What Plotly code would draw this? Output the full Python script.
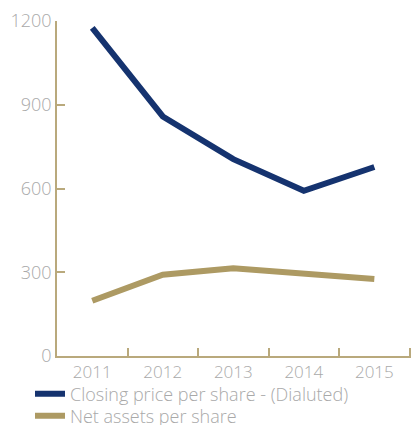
import plotly.graph_objects as go

years = ["2011", "2012", "2013", "2014", "2015"]
closing_price = [1175, 858, 705, 592, 677]
net_assets = [198, 291, 314, 297, 276]
y_ticks = [0, 300, 600, 900, 1200]

BLUE = "#15336f"
GOLD = "#ad9a63"
AXIS = "#b9a97c"
TEXT = "#a9a9a9"

fig = go.Figure()
fig.add_trace(go.Scatter(x=years, y=closing_price, mode="lines",
                         name="Closing price per share - (Dialuted)",
                         line=dict(color=BLUE, width=6), legend="legend"))
fig.add_trace(go.Scatter(x=years, y=net_assets, mode="lines",
                         name="Net assets per share",
                         line=dict(color=GOLD, width=6), legend="legend2"))

leg_common = dict(orientation="v", xref="container", yref="container",
                  x=0.073, xanchor="left", yanchor="top",
                  font=dict(size=18, color=TEXT, weight=300),
                  bgcolor="rgba(0,0,0,0)")

fig.update_layout(
    width=411, height=425,
    margin=dict(l=57, r=0, t=21, b=69, autoexpand=False),
    paper_bgcolor="white", plot_bgcolor="white",
    font=dict(family="Open Sans", color=TEXT, size=16, weight=300),
    showlegend=True,
    legend=dict(leg_common, y=0.1165),
    legend2=dict(leg_common, y=0.0647),
    xaxis=dict(type="category", range=[-0.5, 4.52], showgrid=False, zeroline=False,
               showline=True, linecolor=AXIS, linewidth=1.5,
               ticks="inside", ticklen=8, tickcolor=AXIS, tickwidth=1.5,
               tickson="boundaries", tickfont=dict(size=17, color=TEXT, weight=300)),
    yaxis=dict(range=[0, 1200], tickvals=y_ticks, showgrid=False, zeroline=False,
               showline=True, linecolor=AXIS, linewidth=1.5,
               ticks="inside", ticklen=8, tickcolor=AXIS, tickwidth=1.5,
               tickfont=dict(size=18, color=TEXT, weight=300)),
)

fig.write_html("out.html", config={"displayModeBar": False},
               post_script="document.body.style.margin='0';document.body.style.overflow='hidden';")
